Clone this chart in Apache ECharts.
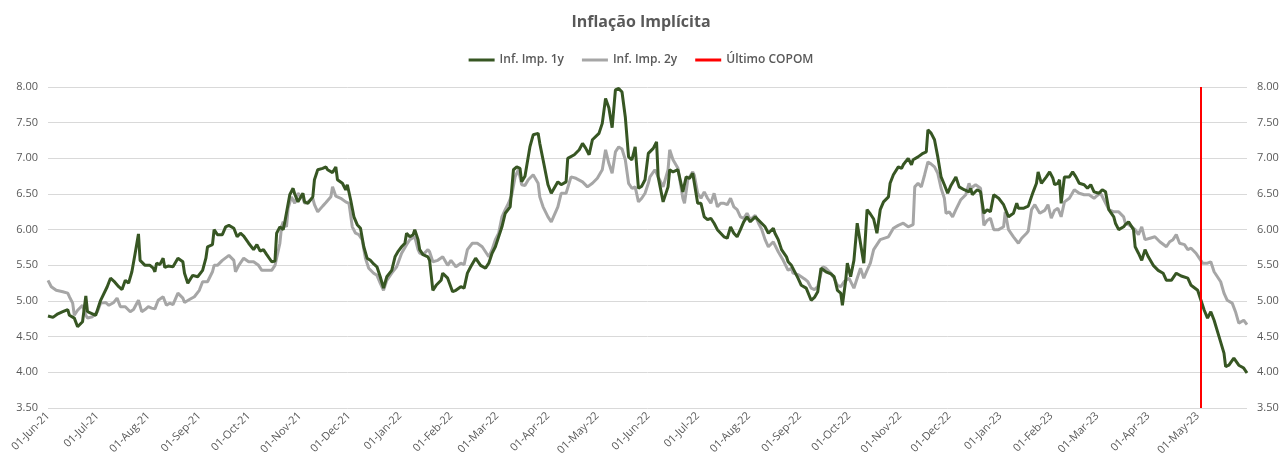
<!DOCTYPE html>
<html>
<head>
<meta charset="utf-8">
<title>Inflação Implícita</title>
<script src="https://cdn.jsdelivr.net/npm/echarts@6/dist/echarts.min.js"></script>
<style>
  html, body { margin: 0; padding: 0; background: #fff; }
  #main { width: 1282px; height: 466px; }
</style>
</head>
<body>
<div id="main"></div>
<script>
// dias desde 01-Jun-21, valor (%)
var inf1y = [[0,4.79],[3,4.77],[6,4.82],[9,4.85],[10,4.83],[12,4.88],[13,4.80],[16,4.76],[18,4.64],[21,4.71],[23,5.07],[24,4.85],[27,4.82],[29,4.80],[32,5.01],[36,5.20],[38,5.32],[40,5.28],[43,5.20],[45,5.16],[47,5.29],[49,5.25],[51,5.41],[53,5.67],[55,5.94],[56,5.57],[59,5.50],[62,5.50],[64,5.46],[65,5.41],[66,5.53],[68,5.51],[70,5.60],[71,5.47],[73,5.49],[76,5.48],[79,5.60],[82,5.55],[83,5.39],[85,5.25],[86,5.25],[88,5.36],[91,5.34],[94,5.43],[96,5.60],[97,5.76],[100,5.79],[101,6.00],[103,5.93],[106,5.93],[108,6.04],[110,6.06],[113,6.02],[115,5.90],[117,5.95],[119,5.91],[120,5.93],[122,5.81],[125,5.72],[127,5.79],[129,5.70],[131,5.72],[133,5.65],[136,5.55],[138,5.56],[139,5.95],[141,6.04],[143,6.00],[144,6.11],[147,6.49],[149,6.58],[150,6.50],[152,6.39],[155,6.51],[156,6.39],[158,6.37],[161,6.46],[162,6.70],[164,6.84],[167,6.86],[169,6.88],[170,6.84],[173,6.80],[175,6.88],[176,6.70],[179,6.65],[181,6.56],[182,6.63],[184,6.42],[186,6.18],[188,6.07],[190,6.02],[192,5.76],[194,5.60],[196,5.57],[198,5.52],[200,5.48],[202,5.34],[204,5.18],[206,5.34],[209,5.43],[211,5.62],[213,5.70],[215,5.76],[217,5.81],[218,5.95],[220,5.90],[222,5.93],[223,6.00],[225,5.86],[226,5.72],[228,5.65],[231,5.62],[232,5.57],[234,5.15],[236,5.22],[239,5.29],[240,5.39],[243,5.32],[246,5.13],[248,5.15],[251,5.20],[253,5.18],[255,5.39],[257,5.48],[260,5.60],[263,5.50],[266,5.46],[268,5.53],[270,5.67],[272,5.76],[274,5.90],[276,6.04],[278,6.23],[281,6.32],[283,6.84],[285,6.88],[287,6.86],[288,6.67],[290,6.75],[293,7.16],[295,7.33],[298,7.35],[299,7.21],[301,6.98],[304,6.63],[306,6.51],[307,6.49],[310,6.67],[312,6.63],[315,6.67],[316,7.00],[320,7.05],[323,7.12],[325,7.21],[327,7.14],[329,7.05],[331,7.26],[335,7.35],[337,7.49],[339,7.84],[341,7.71],[343,7.43],[345,7.96],[347,7.98],[349,7.93],[351,7.58],[353,7.02],[355,6.98],[357,7.16],[359,6.58],[361,6.61],[363,6.70],[365,7.07],[368,7.14],[370,7.23],[371,6.74],[374,6.39],[377,6.60],[378,6.84],[380,6.81],[383,6.84],[386,6.53],[388,6.74],[390,6.72],[392,6.79],[395,6.37],[397,6.37],[399,6.18],[401,6.14],[403,6.16],[405,6.09],[407,6.00],[409,5.95],[411,5.90],[413,5.88],[415,6.04],[417,5.95],[419,5.90],[421,6.00],[423,6.11],[425,6.18],[427,6.11],[430,6.18],[433,6.11],[436,6.04],[438,5.95],[441,6.02],[442,5.95],[444,5.86],[446,5.72],[449,5.62],[450,5.55],[452,5.50],[456,5.32],[458,5.22],[461,5.18],[464,5.01],[466,5.05],[468,5.13],[470,5.46],[473,5.41],[476,5.38],[478,5.34],[480,5.15],[482,5.11],[483,4.94],[485,5.29],[486,5.53],[488,5.34],[490,5.57],[492,6.09],[494,5.81],[496,5.53],[498,6.28],[500,6.22],[502,6.15],[504,5.95],[506,6.28],[508,6.39],[511,6.46],[512,6.65],[514,6.77],[517,6.88],[519,6.86],[520,6.91],[523,7.00],[525,6.91],[526,6.98],[529,7.02],[532,7.07],[534,7.09],[535,7.40],[537,7.35],[539,7.26],[541,7.02],[543,6.74],[545,6.63],[547,6.51],[549,6.62],[552,6.74],[554,6.60],[557,6.56],[560,6.53],[561,6.58],[562,6.49],[565,6.56],[567,6.53],[569,6.23],[571,6.28],[573,6.25],[575,6.49],[578,6.44],[581,6.35],[582,6.33],[584,6.18],[587,6.23],[589,6.37],[590,6.30],[593,6.30],[596,6.33],[599,6.53],[601,6.65],[602,6.81],[604,6.65],[607,6.74],[609,6.81],[611,6.72],[612,6.63],[614,6.65],[615,6.70],[616,6.37],[618,6.74],[621,6.74],[623,6.81],[625,6.74],[627,6.65],[630,6.63],[632,6.58],[634,6.63],[636,6.53],[639,6.51],[641,6.56],[643,6.53],[645,6.28],[648,6.18],[649,6.09],[651,6.00],[654,6.04],[655,6.07],[657,6.11],[660,6.00],[661,5.76],[663,5.67],[665,5.57],[667,5.72],[669,5.62],[672,5.50],[675,5.43],[678,5.39],[680,5.29],[683,5.29],[686,5.39],[689,5.35],[693,5.32],[695,5.22],[699,5.15],[701,5.01],[703,4.87],[705,4.76],[707,4.85],[709,4.73],[712,4.50],[715,4.27],[716,4.08],[718,4.10],[721,4.20],[724,4.10],[727,4.06],[729,3.99]];

var inf2y = [[0,5.29],[2,5.20],[5,5.15],[9,5.13],[12,5.11],[13,5.06],[15,4.97],[16,4.80],[18,4.87],[21,4.94],[23,4.80],[24,4.76],[27,4.78],[30,4.85],[32,4.97],[35,4.98],[37,4.94],[40,4.98],[42,5.04],[44,4.92],[47,4.92],[50,4.85],[52,4.88],[55,5.01],[57,4.85],[59,4.88],[61,4.92],[63,4.90],[65,4.89],[67,5.01],[70,5.06],[72,4.94],[74,4.97],[76,4.95],[79,5.11],[82,5.04],[83,4.98],[86,5.02],[89,5.06],[92,5.15],[94,5.27],[97,5.27],[100,5.41],[101,5.50],[103,5.50],[106,5.57],[110,5.64],[113,5.57],[114,5.41],[116,5.50],[119,5.60],[122,5.55],[125,5.55],[128,5.50],[130,5.43],[133,5.43],[136,5.43],[138,5.50],[139,5.52],[141,5.81],[142,6.04],[143,6.11],[145,6.04],[146,6.30],[148,6.46],[150,6.37],[152,6.51],[155,6.44],[156,6.37],[158,6.39],[161,6.44],[162,6.35],[164,6.25],[167,6.33],[169,6.38],[172,6.46],[173,6.60],[175,6.47],[178,6.44],[181,6.39],[183,6.37],[185,6.04],[187,5.95],[189,5.93],[191,5.86],[193,5.60],[195,5.46],[196,5.44],[198,5.39],[200,5.36],[202,5.25],[204,5.15],[206,5.29],[209,5.39],[212,5.48],[215,5.67],[218,5.79],[220,5.86],[223,5.90],[225,5.72],[226,5.67],[228,5.65],[231,5.72],[232,5.69],[234,5.55],[237,5.57],[240,5.62],[243,5.50],[245,5.57],[248,5.48],[251,5.53],[253,5.51],[255,5.72],[258,5.81],[261,5.81],[264,5.76],[266,5.69],[268,5.62],[270,5.72],[272,5.86],[274,5.95],[276,6.18],[278,6.28],[280,6.37],[282,6.49],[284,6.74],[286,6.84],[288,6.63],[290,6.62],[292,6.70],[295,6.77],[298,6.65],[299,6.46],[301,6.32],[304,6.18],[306,6.11],[307,6.13],[310,6.32],[312,6.51],[315,6.51],[318,6.74],[321,6.72],[325,6.67],[328,6.60],[331,6.65],[334,6.72],[337,6.84],[339,7.12],[341,6.93],[343,6.79],[345,7.09],[347,7.16],[349,7.13],[351,6.98],[353,6.65],[355,6.58],[357,6.60],[359,6.39],[361,6.44],[363,6.51],[365,6.65],[366,6.74],[369,6.84],[371,6.74],[374,6.60],[377,6.84],[378,7.12],[380,6.98],[383,6.86],[386,6.44],[387,6.37],[389,6.70],[392,6.81],[393,6.76],[395,6.51],[397,6.44],[399,6.53],[401,6.44],[403,6.37],[405,6.51],[407,6.32],[409,6.37],[411,6.37],[413,6.35],[415,6.44],[417,6.32],[419,6.28],[421,6.18],[423,6.16],[425,6.23],[427,6.14],[430,6.20],[432,6.09],[434,6.00],[436,5.86],[438,5.76],[441,5.83],[442,5.81],[444,5.69],[447,5.57],[450,5.43],[452,5.46],[453,5.39],[456,5.37],[458,5.34],[460,5.31],[462,5.27],[464,5.18],[466,5.16],[468,5.20],[471,5.48],[473,5.46],[476,5.39],[478,5.32],[480,5.22],[482,5.20],[484,5.27],[487,5.32],[490,5.18],[492,5.32],[494,5.46],[496,5.32],[498,5.43],[500,5.53],[502,5.72],[506,5.86],[511,5.90],[514,6.02],[517,6.06],[520,6.09],[523,6.04],[526,6.07],[527,6.60],[529,6.65],[531,6.60],[533,6.77],[535,6.95],[537,6.92],[539,6.88],[541,6.79],[543,6.58],[545,6.44],[546,6.23],[548,6.25],[550,6.18],[552,6.28],[555,6.42],[558,6.49],[560,6.65],[561,6.58],[564,6.63],[567,6.58],[569,6.06],[571,6.13],[573,6.16],[575,6.00],[578,6.00],[581,6.04],[582,6.25],[584,6.00],[587,5.90],[590,5.81],[592,5.88],[595,5.95],[596,5.98],[598,6.28],[600,6.35],[603,6.23],[606,6.27],[608,6.35],[610,6.16],[612,6.27],[614,6.30],[616,6.18],[618,6.39],[621,6.44],[624,6.56],[627,6.51],[630,6.49],[633,6.49],[636,6.44],[638,6.48],[640,6.51],[645,6.28],[648,6.25],[651,6.25],[654,6.18],[655,6.09],[657,6.07],[659,6.04],[661,6.00],[663,5.93],[665,6.04],[667,5.86],[670,5.88],[673,5.90],[676,5.83],[680,5.76],[682,5.83],[684,5.86],[686,5.93],[688,5.81],[691,5.79],[693,5.72],[695,5.74],[698,5.67],[700,5.60],[702,5.53],[705,5.53],[707,5.55],[709,5.41],[711,5.34],[713,5.27],[715,5.11],[717,5.01],[720,4.97],[722,4.85],[724,4.69],[725,4.71],[727,4.73],[729,4.67]];

var startDate = [2021, 5, 1];
var endDate = [2023, 4, 31];
var copomDate = [2023, 4, 3];
var monthNames = ['Jan','Feb','Mar','Apr','May','Jun','Jul','Aug','Sep','Oct','Nov','Dec'];

function toTime(ymd) {
	return new Date(ymd[0], ymd[1], ymd[2]).getTime();
}
function toSeries(pairs) {
	return pairs.map(function(p) {
		return [new Date(startDate[0], startDate[1], startDate[2] + p[0]).getTime(), p[1]];
	});
}
function pad(n) { return n < 10 ? '0' + n : '' + n; }

var txt = '#595959';
var font = 'Open Sans';

var myChart = echarts.init(document.getElementById('main'));
var option = {
	animation: false,
	title: {
		text: 'Inflação Implícita',
		left: 'center',
		top: 9,
		textStyle: { color: txt, fontSize: 16, fontWeight: 'bold', fontFamily: font }
	},
	legend: {
		top: 49,
		left: 'center',
		icon: 'rect',
		itemWidth: 26,
		itemHeight: 3,
		itemGap: 18,
		textStyle: { color: txt, fontSize: 12, fontWeight: 600, fontFamily: font },
		data: ['Inf. Imp. 1y', 'Inf. Imp. 2y', 'Último COPOM']
	},
	grid: { left: 48, right: 35, top: 87, bottom: 58 },
	xAxis: {
		type: 'time',
		min: toTime(startDate),
		max: toTime(endDate),
		splitNumber: 24,
		minInterval: 28 * 86400000,
		maxInterval: 31 * 86400000,
		axisLine: { show: false },
		axisTick: { show: false },
		splitLine: { show: false },
		axisLabel: {
			rotate: 45,
			color: txt,
			fontSize: 11,
			fontFamily: font,
			margin: 6,
			hideOverlap: false,
			formatter: function(v) {
				var d = new Date(v);
				return pad(d.getDate()) + '-' + monthNames[d.getMonth()] + '-' + String(d.getFullYear()).slice(2);
			}
		}
	},
	yAxis: [{
		type: 'value',
		min: 3.5,
		max: 8,
		interval: 0.5,
		position: 'left',
		axisLine: { show: false },
		axisTick: { show: false },
		splitLine: { lineStyle: { color: '#d9d9d9', width: 1 } },
		axisLabel: { color: txt, fontSize: 11, fontFamily: font, margin: 10, formatter: function(v) { return v.toFixed(2); } }
	}, {
		type: 'value',
		min: 3.5,
		max: 8,
		interval: 0.5,
		position: 'right',
		axisLine: { show: false },
		axisTick: { show: false },
		splitLine: { show: false },
		axisLabel: { color: txt, fontSize: 11, fontFamily: font, margin: 10, formatter: function(v) { return v.toFixed(2); } }
	}],
	series: [{
		name: 'Inf. Imp. 1y',
		type: 'line',
		data: toSeries(inf1y),
		showSymbol: false,
		color: '#375623',
		lineStyle: { width: 3, color: '#375623' },
		z: 3
	}, {
		name: 'Inf. Imp. 2y',
		type: 'line',
		data: toSeries(inf2y),
		showSymbol: false,
		color: '#a6a6a6',
		lineStyle: { width: 3, color: '#a6a6a6' },
		z: 2
	}, {
		name: 'Último COPOM',
		type: 'line',
		data: [],
		color: '#ff0000',
		lineStyle: { color: '#ff0000' },
		markLine: {
			silent: true,
			symbol: 'none',
			label: { show: false },
			lineStyle: { color: '#ff0000', width: 2, type: 'solid' },
			data: [{ xAxis: toTime(copomDate) }]
		},
		z: 4
	}]
};
myChart.setOption(option);
</script>
</body>
</html>
